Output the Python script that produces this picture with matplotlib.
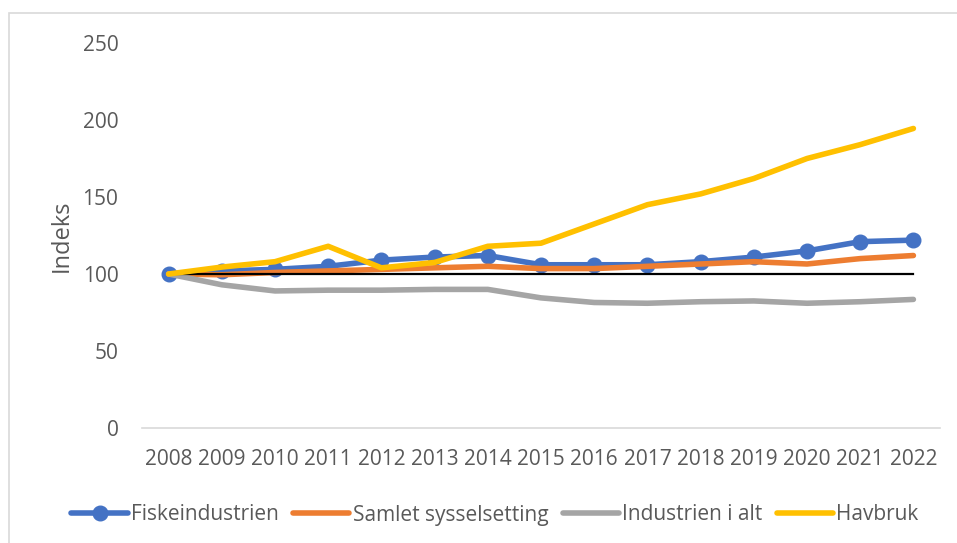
import numpy as np
import matplotlib.pyplot as plt
from matplotlib.patches import Rectangle

plt.rcParams['font.family'] = ['Open Sans', 'DejaVu Sans']

years = [str(y) for y in range(2008, 2023)]
fiskeindustrien = [100, 102, 103, 105, 109, 111, 112, 106, 106, 106, 108, 111, 115, 121, 122]
samlet = [100, 99.5, 101, 102, 103, 104, 105, 103.5, 103.5, 105, 106.5, 108, 106.5, 110, 112]
industrien = [100, 93, 89, 89.5, 89.5, 90, 90, 84.5, 81.5, 81, 82, 82.5, 81, 82, 83.5]
havbruk = [100, 104.5, 108, 118, 104, 107.5, 118, 120, 132.5, 145, 152, 162, 175, 184, 194.5]
base = [100] * len(years)

fig = plt.figure(figsize=(9.57, 5.43), dpi=100)
fig.patches.append(Rectangle((9 / 957, -0.1), 1.2, 1 - 13 / 543 + 0.1,
                             transform=fig.transFigure, fill=False,
                             edgecolor='#d9d9d9', linewidth=1.2))
ax = fig.add_axes([142 / 957, 1 - 428 / 543, 798 / 957, 385 / 543])

x = np.arange(len(years))
lw = 4.0
ax.plot(x, fiskeindustrien, color='#4472C4', lw=lw, marker='o', ms=10.5,
        label='Fiskeindustrien', solid_capstyle='round')
ax.plot(x, samlet, color='#ED7D31', lw=lw, label='Samlet sysselsetting',
        solid_capstyle='round')
ax.plot(x, industrien, color='#A5A5A5', lw=lw, label='Industrien i alt',
        solid_capstyle='round')
ax.plot(x, base, color='black', lw=1.6, label='_nolegend_')
ax.plot(x, havbruk, color='#FFC000', lw=lw, label='Havbruk',
        solid_capstyle='round')

ax.set_xlim(-0.5, len(years) - 0.5)
ax.set_ylim(0, 250)
ax.set_yticks([0, 50, 100, 150, 200, 250])
ax.set_xticks(x)
ax.set_xticklabels(years)
for s in ['top', 'right', 'left']:
    ax.spines[s].set_visible(False)
ax.spines['bottom'].set_color('#d9d9d9')
ax.spines['bottom'].set_linewidth(1.2)
ax.tick_params(length=0, labelsize=15, colors='#595959')
ax.tick_params(axis='x', pad=15)
ax.tick_params(axis='y', pad=17)
ax.set_ylabel('Indeks', fontsize=17, color='#595959', labelpad=6)

fig.legend(loc='center', bbox_to_anchor=(495 / 957, 1 - 515 / 543), ncol=4,
           frameon=False, fontsize=15, handlelength=2.7, handletextpad=0.15,
           columnspacing=0.7, labelcolor='#595959')

fig.savefig('out.png', dpi=100)
